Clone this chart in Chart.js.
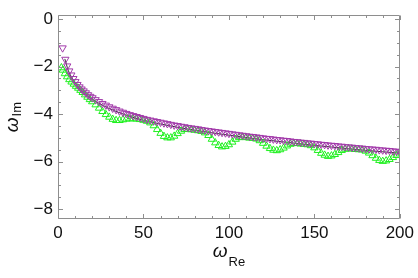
<!DOCTYPE html>
<html><head><meta charset="utf-8">
<script src="https://cdn.jsdelivr.net/npm/chart.js@4.4.0/dist/chart.umd.min.js"></script>
<style>html,body{margin:0;padding:0;background:#fff;}#wrap{width:418px;height:278px;position:relative;}</style>
</head><body><div id="wrap"><canvas id="c" width="418" height="278"></canvas></div>
<script>
// Series A (purple, down triangles)
const purpleRe = [2.7,4.3,5.4,6.6,7.8,9,10.2,11.4,12.6,13.8,15,16.3,17.6,18.9,20.2,
22,24,26,28,30,32,34,36,38,40,42,44,46,48,50,52,54,56,58,60,62,64,66,68,70,72,74,76,78,80,
82,84,86,88,90,92,94,96,98,100,102,104,106,108,110,112,114,116,118,120,122,124,126,128,130,
132,134,136,138,140,142,144,146,148,150,152,154,156,158,160,162,164,166,168,170,172,174,176,178,180,
182,184,186,188,190,192,194,196,198,200];
const purpleIm = [-1.22,-1.70,-1.98,-2.19,-2.36,-2.51,-2.64,-2.76,-2.86,-2.95,-3.03,-3.11,-3.19,-3.26,-3.32,
-3.40,-3.48,-3.56,-3.63,-3.70,-3.76,-3.82,-3.88,-3.93,-3.98,-4.03,-4.07,-4.11,-4.15,-4.19,-4.23,-4.26,-4.29,-4.32,-4.35,-4.38,-4.41,-4.44,-4.47,-4.49,-4.52,-4.54,-4.57,-4.59,-4.61,
-4.63,-4.66,-4.68,-4.70,-4.72,-4.74,-4.76,-4.78,-4.80,-4.82,-4.84,-4.86,-4.88,-4.90,-4.92,-4.94,-4.95,-4.97,-4.99,-5.01,-5.03,-5.04,-5.06,-5.08,-5.09,
-5.11,-5.12,-5.14,-5.16,-5.17,-5.19,-5.20,-5.22,-5.23,-5.25,-5.26,-5.28,-5.29,-5.31,-5.32,-5.33,-5.35,-5.36,-5.38,-5.39,-5.40,-5.42,-5.43,-5.44,-5.46,
-5.47,-5.48,-5.49,-5.51,-5.52,-5.53,-5.54,-5.56,-5.57,-5.58];
// Series B (green, up triangles)
const greenRe = [2.0,2.8,4.0,5.3,6.6,7.9,9.2,10.5,11.8,13.1,14.4,15.8,17.2,18.6,20.0,
22,24,26,28,30,32,34,36,38,40,42,44,46,48,50,52,54,56,58,60,62,64,66,68,70,72,74,76,78,80,
82,84,86,88,90,92,94,96,98,100,102,104,106,108,110,112,114,116,118,120,122,124,126,128,130,
132,134,136,138,140,142,144,146,148,150,152,154,156,158,160,162,164,166,168,170,172,174,176,178,180,
182,184,186,188,190,192,194,196,198,200];
const greenIm = [-2.05,-2.15,-2.30,-2.43,-2.55,-2.65,-2.74,-2.83,-2.91,-3.00,-3.09,-3.19,-3.29,-3.39,-3.48,
-3.61,-3.75,-3.89,-4.02,-4.13,-4.22,-4.27,-4.27,-4.24,-4.21,-4.20,-4.20,-4.21,-4.23,-4.26,-4.30,-4.37,-4.49,-4.65,-4.81,-4.94,-5.00,-5.00,-4.93,-4.82,-4.72,-4.65,-4.64,-4.66,-4.68,
-4.70,-4.73,-4.79,-4.90,-5.06,-5.21,-5.32,-5.38,-5.36,-5.29,-5.18,-5.06,-4.99,-4.97,-4.99,-5.01,-5.02,-5.05,-5.12,-5.23,-5.35,-5.45,-5.52,-5.54,-5.50,
-5.43,-5.34,-5.27,-5.24,-5.24,-5.26,-5.27,-5.29,-5.33,-5.42,-5.53,-5.65,-5.73,-5.78,-5.76,-5.70,-5.62,-5.53,-5.48,-5.46,-5.47,-5.49,-5.50,-5.51,-5.56,
-5.64,-5.75,-5.86,-5.95,-5.99,-5.97,-5.91,-5.83,-5.74,-5.68];
// Reference curve (black line)
const curveRe = [4,6,8,10,12,15,20,25,30,40,50,60,70,80,90,100,110,120,130,140,150,160,170,180,190,200];
const curveIm = [-1.68,-2.16,-2.46,-2.69,-2.88,-3.10,-3.38,-3.59,-3.77,-4.05,-4.26,-4.42,-4.56,-4.68,-4.79,-4.89,-4.99,-5.08,-5.16,-5.24,-5.32,-5.39,-5.46,-5.53,-5.59,-5.65];
// Ticks
const xTickValues = [0,50,100,150,200];
const xMinorTicks = [10,20,30,40,60,70,80,90,110,120,130,140,160,170,180,190];
const yTickValues = [-8,-6,-4,-2,0];
const yMinorTicks = [-7.5,-7,-6.5,-5.5,-5,-4.5,-3.5,-3,-2.5,-1.5,-1,-0.5];

const toPts = (xs, ys) => xs.map((x, i) => ({x: x, y: ys[i]}));
const FRAME = '#8e8e8e';
const FONT = '"Liberation Sans", Arial, sans-serif';

const framePlugin = {
  id: 'frame',
  afterDraw(chart) {
    const ctx = chart.ctx, a = chart.chartArea, xs = chart.scales.x, ys = chart.scales.y;
    ctx.save();
    ctx.strokeStyle = FRAME; ctx.lineWidth = 1;
    const L = Math.round(a.left) + 0.5, R = Math.round(a.right) - 0.5, T = Math.round(a.top) + 0.5, B = Math.round(a.bottom) - 0.5;
    ctx.beginPath();
    ctx.rect(L, T, R - L, B - T);
    ctx.stroke();
    ctx.beginPath();
    const tickX = (v, len) => { const p = Math.round(xs.getPixelForValue(v)) + 0.5; ctx.moveTo(p, B); ctx.lineTo(p, B - len); ctx.moveTo(p, T); ctx.lineTo(p, T + len); };
    const tickY = (v, len) => { const p = Math.round(ys.getPixelForValue(v)) + 0.5; ctx.moveTo(L, p); ctx.lineTo(L + len, p); ctx.moveTo(R, p); ctx.lineTo(R - len, p); };
    xTickValues.forEach(v => tickX(v, 4.5));
    xMinorTicks.forEach(v => tickX(v, 2.5));
    yTickValues.forEach(v => tickY(v, 4.5));
    yMinorTicks.forEach(v => tickY(v, 2.5));
    ctx.stroke();
    // axis titles
    ctx.fillStyle = '#111';
    ctx.textBaseline = 'alphabetic';
    const big = 'italic 19px ' + FONT, small = '13px ' + FONT;
    ctx.font = big; const w1 = ctx.measureText('\u03c9').width;
    ctx.font = small; const w2 = ctx.measureText('Re').width;
    const cx = (a.left + a.right) / 2;
    let sx = cx - (w1 + w2 + 1) / 2;
    ctx.font = big; ctx.fillText('\u03c9', sx, 257);
    ctx.font = small; ctx.fillText('Re', sx + w1 + 1, 266);
    // y title rotated
    ctx.font = big; const v1 = ctx.measureText('\u03c9').width;
    ctx.font = small; const v2 = ctx.measureText('Im').width;
    const cy = (a.top + a.bottom) / 2;
    ctx.translate(18, cy + (v1 + v2 + 1) / 2);
    ctx.rotate(-Math.PI / 2);
    ctx.font = big; ctx.fillText('\u03c9', 0, 0);
    ctx.font = small; ctx.fillText('Im', v1 + 1, 3);
    ctx.restore();
  }
};

new Chart(document.getElementById('c'), {
  type: 'scatter',
  data: { datasets: [
    { data: toPts(purpleRe, purpleIm), pointStyle: 'triangle', rotation: 180, radius: 4.2, borderWidth: 1, borderColor: '#a23aaa', backgroundColor: 'rgba(0,0,0,0)' },
    { data: toPts(greenRe, greenIm), pointStyle: 'triangle', rotation: 0, radius: 4.2, borderWidth: 1, borderColor: '#1ff01f', backgroundColor: 'rgba(0,0,0,0)' },
    { type: 'line', data: toPts(curveRe, curveIm), borderColor: '#1a1a1a', borderWidth: 0.9, pointRadius: 0, fill: false, cubicInterpolationMode: 'monotone' }
  ]},
  options: {
    responsive: false, animation: false, devicePixelRatio: 1,
    layout: { padding: { top: 10, right: 18, left: 0, bottom: 0 } },
    plugins: { legend: { display: false }, tooltip: { enabled: false } },
    scales: {
      x: { type: 'linear', min: 0, max: 200,
        grid: { display: false, drawTicks: false }, border: { display: false },
        afterBuildTicks: s => { s.ticks = xTickValues.map(v => ({ value: v })); },
        afterFit: s => { s.height = 59; },
        ticks: { font: { family: FONT, size: 17 }, color: '#111', padding: 4, maxRotation: 0, autoSkip: false } },
      y: { type: 'linear', min: -8.42, max: 0.16,
        grid: { display: false, drawTicks: false }, border: { display: false },
        afterBuildTicks: s => { s.ticks = yTickValues.map(v => ({ value: v })); },
        afterFit: s => { s.width = 58; },
        ticks: { font: { family: FONT, size: 17 }, color: '#111', padding: 5, autoSkip: false,
          callback: v => (v < 0 ? '\u2212' + Math.abs(v) : String(v)) } }
    }
  },
  plugins: [framePlugin]
});
</script></body></html>
